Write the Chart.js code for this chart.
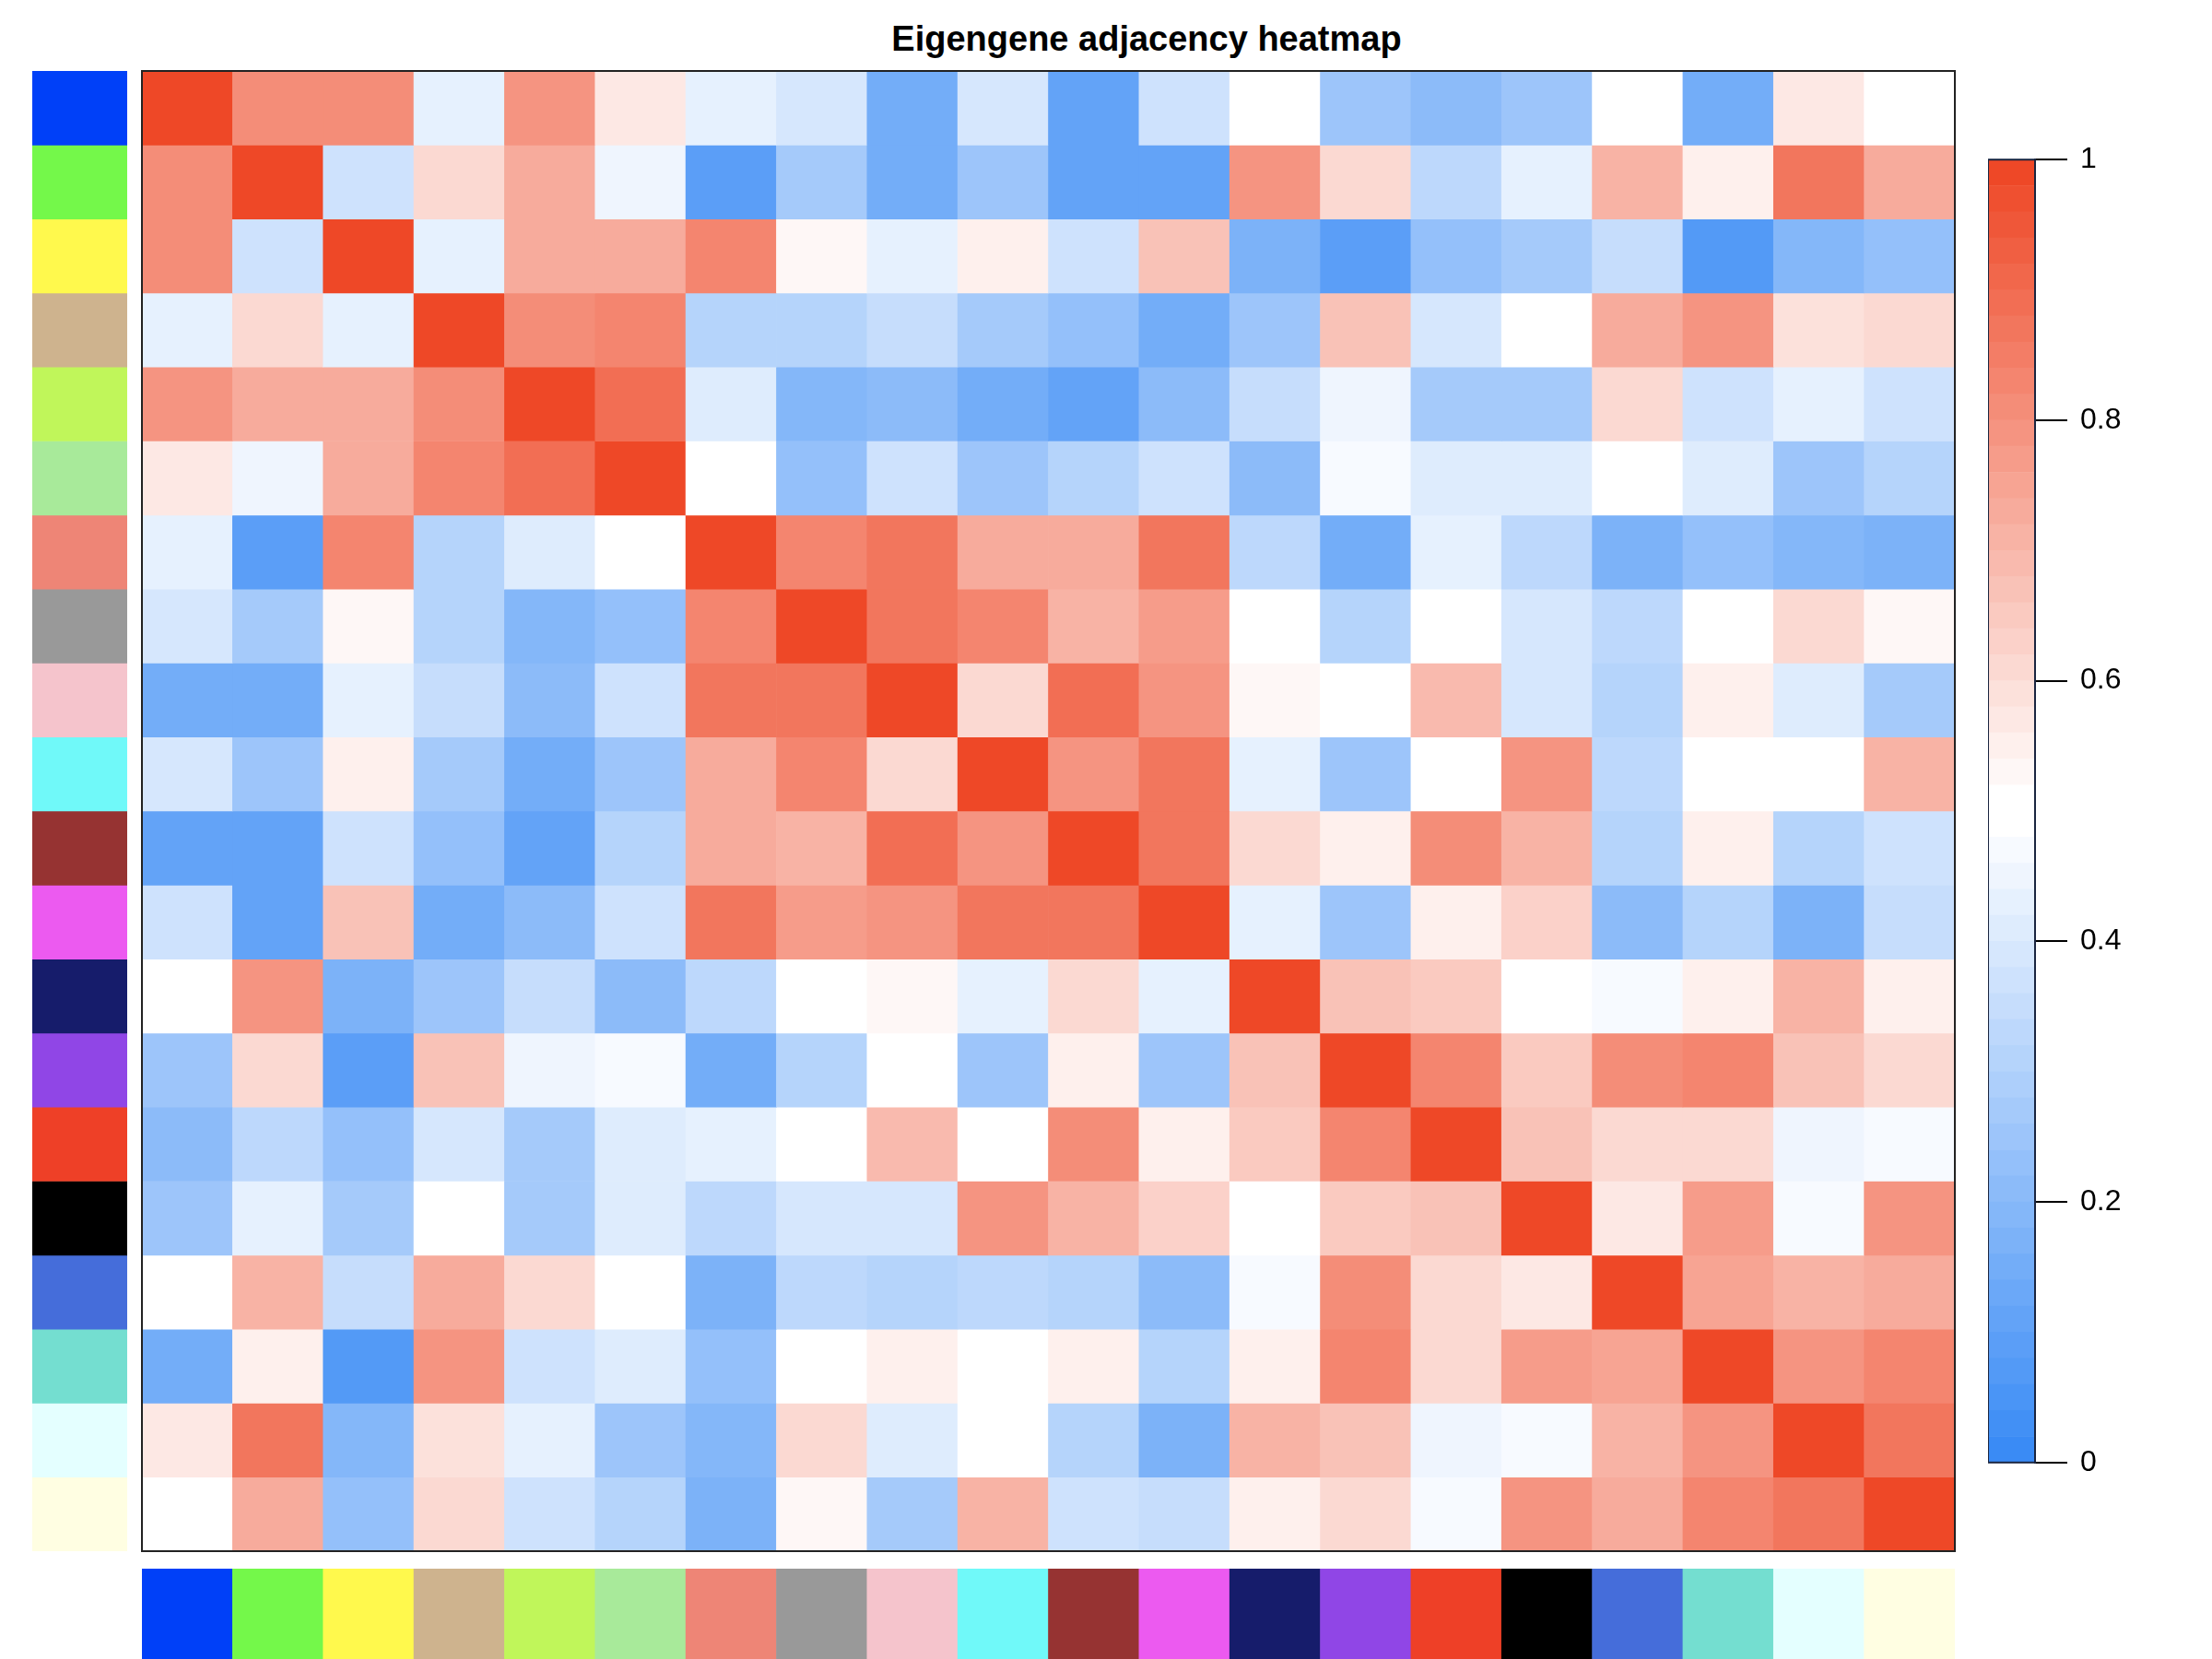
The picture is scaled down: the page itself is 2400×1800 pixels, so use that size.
<!DOCTYPE html>
<html>
<head>
<meta charset="utf-8">
<script src="https://cdn.jsdelivr.net/npm/chart.js@4.4.1/dist/chart.umd.min.js"></script>
<style>
  html, body { margin: 0; padding: 0; background: #fff; }
  body { width: 2400px; height: 1800px; position: relative; overflow: hidden; }
  canvas { position: absolute; }
  #title {
    position: absolute; left: 0; top: 23px; width: 2488px; text-align: center;
    font: bold 38px "Liberation Sans", Arial, sans-serif; line-height: 38px; color: #000;
  }
</style>
</head>
<body>
<div id="title">Eigengene adjacency heatmap</div>
<canvas id="heatmap" width="1973" height="1612" style="left:151px;top:74px"></canvas>
<canvas id="rowBar" width="103" height="1606" style="left:35px;top:77px"></canvas>
<canvas id="colBar" width="1967" height="98" style="left:154px;top:1702px"></canvas>
<canvas id="legendBar" width="243" height="1480" style="left:2157px;top:140px"></canvas>
<script>
// module eigengenes, in plot order (rows top to bottom, columns left to right)
const modules = ['blue', 'green', 'yellow', 'tan', 'greenyellow', 'lightgreen', 'salmon', 'grey60', 'pink', 'cyan',
  'brown', 'magenta', 'midnightblue', 'purple', 'red', 'black', 'royalblue', 'turquoise', 'lightcyan', 'lightyellow'];
const moduleColors = ['#0040F8', '#74F84A', '#FFF94D', '#CEB38E', '#C0F65A', '#A8EA9A', '#EE8576', '#999999', '#F5C4CC', '#70F9F9',
  '#963332', '#EC5AF0', '#161C6B', '#9046E6', '#EE4027', '#000000', '#456DDA', '#74DED0', '#E4FFFF', '#FFFEE2'];

// eigengene adjacency, one row per module
const adjacency = [
  [1, 0.81, 0.81, 0.42, 0.78, 0.57, 0.42, 0.39, 0.14, 0.39, 0.1, 0.37, 0.5, 0.25, 0.21, 0.25, 0.5, 0.14, 0.57, 0.5],
  [0.81, 1, 0.37, 0.6, 0.73, 0.45, 0.09, 0.27, 0.14, 0.25, 0.1, 0.1, 0.78, 0.6, 0.32, 0.42, 0.71, 0.55, 0.86, 0.73],
  [0.81, 0.37, 1, 0.42, 0.73, 0.73, 0.83, 0.53, 0.42, 0.55, 0.37, 0.67, 0.16, 0.08, 0.23, 0.27, 0.34, 0.06, 0.18, 0.23],
  [0.42, 0.6, 0.42, 1, 0.81, 0.83, 0.3, 0.3, 0.35, 0.27, 0.23, 0.14, 0.25, 0.67, 0.39, 0.5, 0.73, 0.79, 0.58, 0.6],
  [0.78, 0.73, 0.73, 0.81, 1, 0.89, 0.41, 0.18, 0.21, 0.14, 0.1, 0.21, 0.34, 0.45, 0.27, 0.27, 0.6, 0.37, 0.42, 0.37],
  [0.57, 0.45, 0.73, 0.83, 0.89, 1, 0.5, 0.23, 0.37, 0.25, 0.3, 0.37, 0.21, 0.47, 0.41, 0.41, 0.5, 0.41, 0.25, 0.3],
  [0.42, 0.09, 0.83, 0.3, 0.41, 0.5, 1, 0.83, 0.86, 0.73, 0.73, 0.87, 0.32, 0.14, 0.42, 0.32, 0.16, 0.23, 0.18, 0.16],
  [0.39, 0.27, 0.53, 0.3, 0.18, 0.23, 0.83, 1, 0.86, 0.83, 0.71, 0.77, 0.5, 0.3, 0.5, 0.39, 0.32, 0.5, 0.6, 0.53],
  [0.14, 0.14, 0.42, 0.35, 0.21, 0.37, 0.86, 0.86, 1, 0.6, 0.89, 0.78, 0.53, 0.5, 0.69, 0.39, 0.3, 0.55, 0.41, 0.27],
  [0.39, 0.25, 0.55, 0.27, 0.14, 0.25, 0.73, 0.83, 0.6, 1, 0.78, 0.86, 0.42, 0.25, 0.5, 0.79, 0.32, 0.5, 0.5, 0.71],
  [0.1, 0.1, 0.37, 0.23, 0.1, 0.3, 0.73, 0.71, 0.89, 0.78, 1, 0.87, 0.6, 0.55, 0.81, 0.71, 0.3, 0.55, 0.31, 0.37],
  [0.37, 0.1, 0.67, 0.14, 0.21, 0.37, 0.87, 0.77, 0.78, 0.86, 0.87, 1, 0.42, 0.25, 0.55, 0.63, 0.21, 0.31, 0.16, 0.34],
  [0.5, 0.78, 0.16, 0.25, 0.34, 0.21, 0.32, 0.5, 0.53, 0.42, 0.6, 0.42, 1, 0.67, 0.65, 0.5, 0.47, 0.55, 0.71, 0.55],
  [0.25, 0.6, 0.08, 0.67, 0.45, 0.47, 0.14, 0.3, 0.5, 0.25, 0.55, 0.25, 0.67, 1, 0.83, 0.65, 0.81, 0.83, 0.66, 0.6],
  [0.21, 0.32, 0.23, 0.39, 0.27, 0.41, 0.42, 0.5, 0.69, 0.5, 0.81, 0.55, 0.65, 0.83, 1, 0.67, 0.6, 0.6, 0.45, 0.47],
  [0.25, 0.42, 0.27, 0.5, 0.27, 0.41, 0.32, 0.39, 0.39, 0.79, 0.71, 0.63, 0.5, 0.65, 0.67, 1, 0.57, 0.76, 0.47, 0.79],
  [0.5, 0.71, 0.34, 0.73, 0.6, 0.5, 0.16, 0.32, 0.3, 0.32, 0.3, 0.21, 0.47, 0.81, 0.6, 0.57, 1, 0.75, 0.71, 0.73],
  [0.14, 0.55, 0.06, 0.79, 0.37, 0.41, 0.23, 0.5, 0.55, 0.5, 0.55, 0.31, 0.55, 0.83, 0.6, 0.76, 0.75, 1, 0.79, 0.83],
  [0.57, 0.86, 0.18, 0.58, 0.42, 0.25, 0.18, 0.6, 0.41, 0.5, 0.31, 0.16, 0.71, 0.66, 0.45, 0.47, 0.71, 0.79, 1, 0.87],
  [0.5, 0.73, 0.23, 0.6, 0.37, 0.3, 0.16, 0.53, 0.27, 0.71, 0.37, 0.34, 0.55, 0.6, 0.47, 0.79, 0.73, 0.83, 0.87, 1]
];

const legendTicks = [0, 0.2, 0.4, 0.6, 0.8, 1];

// blue - white - red palette, 50 steps (two white steps in the middle)
const nColors = 50;
const blueEnd = [58, 139, 245], redEnd = [238, 72, 39], white = [255, 255, 255];
function mix(a, b, f) {
  return 'rgb(' + a.map((v, i) => Math.round(v + (b[i] - v) * f)).join(',') + ')';
}
const palette = [];
for (let k = 0; k < nColors; k++) {
  if (k < nColors / 2) palette.push(mix(blueEnd, white, k / (nColors / 2 - 1)));
  else palette.push(mix(white, redEnd, (k - nColors / 2) / (nColors / 2 - 1)));
}
function colorFor(v) {
  return palette[Math.min(nColors - 1, Math.max(0, Math.floor(v * nColors + 1e-9)))];
}

Chart.defaults.font.family = '"Liberation Sans", Arial, sans-serif';
Chart.defaults.color = '#000';

const frame = (color, width) => ({
  id: 'frame',
  afterDraw(chart) {
    const a = chart.chartArea, c = chart.ctx;
    c.save();
    c.strokeStyle = color;
    c.lineWidth = width;
    c.strokeRect(a.left, a.top, a.right - a.left, a.bottom - a.top);
    c.restore();
  }
});

const hidden = { display: false };
const baseOptions = {
  responsive: false,
  animation: false,
  devicePixelRatio: 1,
  plugins: { legend: hidden, tooltip: { enabled: false } }
};

// main heatmap: one stacked dataset per row, one category per column
new Chart(document.getElementById('heatmap').getContext('2d'), {
  type: 'bar',
  data: {
    labels: modules,
    datasets: adjacency.map((row, i) => ({
      label: modules[i],
      data: row.map(() => 1),
      backgroundColor: row.map(colorFor),
      borderWidth: 0,
      barPercentage: 1,
      categoryPercentage: 1
    }))
  },
  options: {
    ...baseOptions,
    layout: { padding: 3 },
    scales: {
      x: { stacked: true, display: false },
      y: { stacked: true, display: false, min: 0, max: modules.length, reverse: true }
    }
  },
  plugins: [frame('#222', 2)]
});

// module colour strip on the left
new Chart(document.getElementById('rowBar').getContext('2d'), {
  type: 'bar',
  data: {
    labels: [''],
    datasets: modules.map((m, i) => ({
      label: m,
      data: [1],
      backgroundColor: moduleColors[i],
      borderWidth: 0,
      barPercentage: 1,
      categoryPercentage: 1
    }))
  },
  options: {
    ...baseOptions,
    layout: { padding: 0 },
    scales: {
      x: { stacked: true, display: false },
      y: { stacked: true, display: false, min: 0, max: modules.length, reverse: true }
    }
  }
});

// module colour strip at the bottom
new Chart(document.getElementById('colBar').getContext('2d'), {
  type: 'bar',
  data: {
    labels: modules,
    datasets: [{
      data: modules.map(() => 1),
      backgroundColor: moduleColors,
      borderWidth: 0,
      barPercentage: 1,
      categoryPercentage: 1
    }]
  },
  options: {
    ...baseOptions,
    layout: { padding: 0 },
    scales: {
      x: { display: false },
      y: { display: false, min: 0, max: 1 }
    }
  }
});

// colour key
new Chart(document.getElementById('legendBar').getContext('2d'), {
  type: 'bar',
  data: {
    labels: [''],
    datasets: palette.map(c => ({
      data: [1 / nColors],
      backgroundColor: c,
      borderWidth: 0,
      barPercentage: 1,
      categoryPercentage: 1
    }))
  },
  options: {
    ...baseOptions,
    layout: { padding: { top: 33, bottom: 32, left: 0, right: 0 } },
    scales: {
      x: { stacked: true, display: false },
      y: {
        stacked: true,
        position: 'right',
        min: 0,
        max: 1,
        afterBuildTicks: scale => { scale.ticks = legendTicks.map(v => ({ value: v })); },
        afterFit: scale => { scale.width = 192; },
        grid: { drawOnChartArea: false, drawTicks: true, tickLength: 35, color: '#000', lineWidth: 2 },
        border: { display: true, color: '#1a2540', width: 2 },
        ticks: { padding: 14, font: { size: 32 }, color: '#000', callback: v => String(v) }
      }
    }
  },
  plugins: [frame('#1a2540', 2)]
});
</script>
</body>
</html>
